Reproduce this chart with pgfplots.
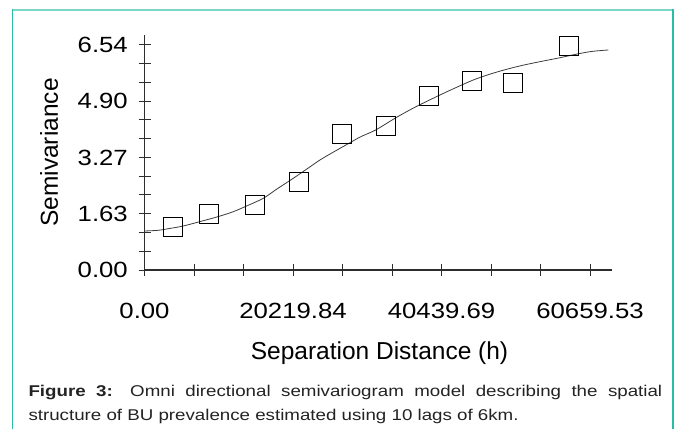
\documentclass[border=0pt]{standalone}
\usepackage{fontspec}
\setmainfont{Liberation Sans}
\newfontfamily\tickfont{Liberation Sans}[FakeStretch=1.17]
\newfontfamily\capfont{Liberation Sans}[FakeStretch=1.2]
\usepackage{pgfplots}
\pgfplotsset{compat=1.18}
\definecolor{frametop}{RGB}{125,215,200}
\definecolor{frameside}{RGB}{40,190,165}
\definecolor{curvegray}{RGB}{60,60,60}
\definecolor{axisgray}{RGB}{45,45,45}
\definecolor{captext}{RGB}{35,35,35}
\begin{document}
\begin{tikzpicture}[x=1pt,y=1pt]
\path[use as bounding box] (0,0) rectangle (680,429);
\draw[frametop, line width=1.5pt] (12.3,419) -- (673,419);
\draw[frameside, line width=1.5pt] (12.3,419.7) -- (12.3,0);
\draw[frameside, line width=1.5pt] (673,419.7) -- (673,0);
\begin{axis}[
  at={(144.5pt,159pt)}, anchor=south west,
  scale only axis, width=467.2pt, height=235pt,
  xmin=0, xmax=63614, ymin=0, ymax=6.83,
  clip=false,
  axis lines=left,
  axis line style={-, axisgray, line width=1.1pt},
  scaled x ticks=false, scaled y ticks=false,
  xtick={0,20219.84,40439.69,60659.53},
  xticklabels={0.00,20219.84,40439.69,60659.53},
  minor xtick={6739.95,13479.89,26959.79,33699.74,47179.63,53919.58},
  ytick={0,1.635,3.27,4.905,6.54},
  yticklabels={0.00,1.63,3.27,4.90,6.54},
  minor ytick={0.545,1.09,2.18,2.725,3.815,4.36,5.45,5.995},
  major tick length=12pt, minor tick length=12pt, tick align=center,
  tick style={axisgray, line width=1pt},
  minor tick style={axisgray, line width=1pt},
  xticklabel style={font=\tickfont\fontsize{22}{22}\selectfont, anchor=base, inner sep=0pt, yshift=-42.3pt, text=black},
  yticklabel style={font=\tickfont\fontsize{22}{22}\selectfont, anchor=east, inner sep=0pt, xshift=-10.5pt, text=black},
  xlabel={Separation Distance (h)},
  xlabel style={at={(axis description cs:0.503,-0.380)}, anchor=base, inner sep=0pt, font=\fontsize{24.5}{24.5}\selectfont},
  ylabel={Semivariance},
  ylabel style={at={(axis description cs:-0.204,0.5)}, anchor=center, inner sep=0pt, font=\fontsize{24.5}{24.5}\selectfont},
]
\addplot[curvegray, line width=0.8pt, smooth, no marks] coordinates {
  (0,1.134) (1880,1.154) (3500,1.21) (5283,1.279) (8007,1.433) (10000,1.55)
  (12092,1.695) (14000,1.87) (16177,2.084) (18000,2.35) (20262,2.666)
  (22000,2.92) (23897,3.198) (25500,3.40) (27982,3.70) (29500,3.88)
  (31481,4.07) (34341,4.44) (37000,4.75) (40236,5.087) (42500,5.31)
  (44771,5.523) (47000,5.69) (49319,5.834) (51500,5.95) (53853,6.055)
  (56577,6.17) (58500,6.26) (60663,6.346) (62000,6.375) (63155,6.395)
};
\addplot[only marks, mark=square, mark size=9.6pt, mark options={black, line width=0.9pt, fill=none}] coordinates {
  (3922,1.241) (8783,1.637) (15087,1.898) (21038,2.558) (26866,3.945)
  (32843,4.177) (38739,5.049) (44635,5.494) (50177,5.445) (57762,6.503)
};
\end{axis}
\node[anchor=base west, inner sep=0pt, text=captext] at (28.3,33)
  {\capfont\fontsize{15.6}{15.6}\selectfont\makebox[633.7pt][s]{\textbf{Figure 3:} Omni directional semivariogram model describing the spatial}};
\node[anchor=base west, inner sep=0pt, text=captext] at (28.3,8.3)
  {\capfont\fontsize{15.6}{15.6}\selectfont structure of BU prevalence estimated using 10 lags of 6km.};
\end{tikzpicture}
\end{document}
